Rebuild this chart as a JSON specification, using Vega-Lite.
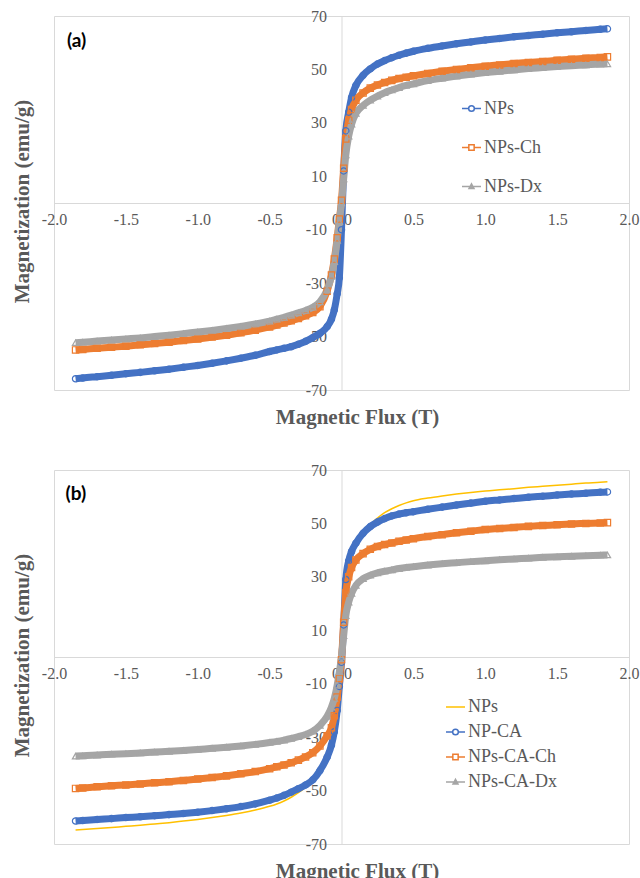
{
"$schema": "https://vega.github.io/schema/vega-lite/v6.json",
"background": "white",
"padding": {"left": 10, "top": 7, "right": 0, "bottom": 0},
"bounds": "flush",
"spacing": 80,
"config": {
  "view": {"stroke": "#D9D9D9", "strokeWidth": 1},
  "axis": {"grid": false, "ticks": false, "domainColor": "#D9D9D9", "domainWidth": 1, "labelFont": "Liberation Serif", "labelFontSize": 16, "labelColor": "#595959", "titleFont": "Liberation Serif", "titleFontSize": 21, "titleFontWeight": "bold", "titleColor": "#595959", "labelFlush": false, "labelOverlap": false},
  "legend": {"padding": 0, "labelFont": "Liberation Serif", "labelFontSize": 18, "labelColor": "#595959", "symbolSize": 361, "labelOffset": 2}
},
"resolve": {"scale": {"color": "independent", "shape": "independent"}, "legend": {"color": "independent", "shape": "independent"}},
"datasets": {
"a": [
{"s":"NPs","x":-1.85,"y":-65.8},{"s":"NPs","x":-1.8,"y":-65.5},{"s":"NPs","x":-1.7,"y":-65.0},{"s":"NPs","x":-1.6,"y":-64.5},{"s":"NPs","x":-1.5,"y":-63.9},{"s":"NPs","x":-1.4,"y":-63.4},{"s":"NPs","x":-1.3,"y":-62.8},{"s":"NPs","x":-1.2,"y":-62.2},{"s":"NPs","x":-1.1,"y":-61.5},{"s":"NPs","x":-1.0,"y":-60.8},{"s":"NPs","x":-0.9,"y":-60.0},{"s":"NPs","x":-0.8,"y":-59.1},{"s":"NPs","x":-0.7,"y":-58.1},{"s":"NPs","x":-0.6,"y":-57.0},{"s":"NPs","x":-0.5,"y":-55.6},{"s":"NPs","x":-0.45,"y":-55.0},{"s":"NPs","x":-0.4,"y":-54.4},{"s":"NPs","x":-0.35,"y":-53.8},{"s":"NPs","x":-0.3,"y":-52.9},{"s":"NPs","x":-0.25,"y":-51.8},{"s":"NPs","x":-0.2,"y":-50.4},{"s":"NPs","x":-0.15,"y":-48.8},{"s":"NPs","x":-0.1,"y":-46.3},{"s":"NPs","x":-0.07,"y":-43.5},{"s":"NPs","x":-0.05,"y":-40.0},{"s":"NPs","x":-0.03,"y":-34.0},{"s":"NPs","x":-0.015,"y":-28.0},{"s":"NPs","x":0,"y":-10},{"s":"NPs","x":0.015,"y":12},{"s":"NPs","x":0.03,"y":27},{"s":"NPs","x":0.05,"y":34},{"s":"NPs","x":0.07,"y":39.5},{"s":"NPs","x":0.1,"y":44},{"s":"NPs","x":0.15,"y":47.8},{"s":"NPs","x":0.2,"y":50.2},{"s":"NPs","x":0.25,"y":52},{"s":"NPs","x":0.3,"y":53.3},{"s":"NPs","x":0.35,"y":54.4},{"s":"NPs","x":0.4,"y":55.3},{"s":"NPs","x":0.45,"y":56.1},{"s":"NPs","x":0.5,"y":56.8},{"s":"NPs","x":0.6,"y":57.9},{"s":"NPs","x":0.7,"y":58.8},{"s":"NPs","x":0.8,"y":59.6},{"s":"NPs","x":0.9,"y":60.3},{"s":"NPs","x":1.0,"y":61.0},{"s":"NPs","x":1.1,"y":61.6},{"s":"NPs","x":1.2,"y":62.2},{"s":"NPs","x":1.3,"y":62.7},{"s":"NPs","x":1.4,"y":63.2},{"s":"NPs","x":1.5,"y":63.7},{"s":"NPs","x":1.6,"y":64.1},{"s":"NPs","x":1.7,"y":64.6},{"s":"NPs","x":1.8,"y":65.0},{"s":"NPs","x":1.85,"y":65.2},
{"s":"NPs-Ch","x":-1.85,"y":-55.0},{"s":"NPs-Ch","x":-1.8,"y":-54.8},{"s":"NPs-Ch","x":-1.7,"y":-54.4},{"s":"NPs-Ch","x":-1.6,"y":-54.0},{"s":"NPs-Ch","x":-1.5,"y":-53.6},{"s":"NPs-Ch","x":-1.4,"y":-53.1},{"s":"NPs-Ch","x":-1.3,"y":-52.6},{"s":"NPs-Ch","x":-1.2,"y":-52.1},{"s":"NPs-Ch","x":-1.1,"y":-51.5},{"s":"NPs-Ch","x":-1.0,"y":-50.9},{"s":"NPs-Ch","x":-0.9,"y":-50.2},{"s":"NPs-Ch","x":-0.8,"y":-49.5},{"s":"NPs-Ch","x":-0.7,"y":-48.6},{"s":"NPs-Ch","x":-0.6,"y":-47.6},{"s":"NPs-Ch","x":-0.5,"y":-46.4},{"s":"NPs-Ch","x":-0.45,"y":-45.7},{"s":"NPs-Ch","x":-0.4,"y":-44.9},{"s":"NPs-Ch","x":-0.35,"y":-44.1},{"s":"NPs-Ch","x":-0.3,"y":-43.2},{"s":"NPs-Ch","x":-0.25,"y":-42.2},{"s":"NPs-Ch","x":-0.2,"y":-41.0},{"s":"NPs-Ch","x":-0.15,"y":-38.8},{"s":"NPs-Ch","x":-0.1,"y":-33.0},{"s":"NPs-Ch","x":-0.07,"y":-27.0},{"s":"NPs-Ch","x":-0.05,"y":-21.0},{"s":"NPs-Ch","x":-0.03,"y":-13.0},{"s":"NPs-Ch","x":-0.015,"y":-6.0},{"s":"NPs-Ch","x":0,"y":1},{"s":"NPs-Ch","x":0.015,"y":13},{"s":"NPs-Ch","x":0.03,"y":24},{"s":"NPs-Ch","x":0.05,"y":31},{"s":"NPs-Ch","x":0.07,"y":35},{"s":"NPs-Ch","x":0.1,"y":38.5},{"s":"NPs-Ch","x":0.15,"y":41.2},{"s":"NPs-Ch","x":0.2,"y":43},{"s":"NPs-Ch","x":0.25,"y":44.2},{"s":"NPs-Ch","x":0.3,"y":45.1},{"s":"NPs-Ch","x":0.35,"y":45.9},{"s":"NPs-Ch","x":0.4,"y":46.6},{"s":"NPs-Ch","x":0.45,"y":47.1},{"s":"NPs-Ch","x":0.5,"y":47.6},{"s":"NPs-Ch","x":0.6,"y":48.5},{"s":"NPs-Ch","x":0.7,"y":49.3},{"s":"NPs-Ch","x":0.8,"y":50.0},{"s":"NPs-Ch","x":0.9,"y":50.6},{"s":"NPs-Ch","x":1.0,"y":51.2},{"s":"NPs-Ch","x":1.1,"y":51.7},{"s":"NPs-Ch","x":1.2,"y":52.2},{"s":"NPs-Ch","x":1.3,"y":52.6},{"s":"NPs-Ch","x":1.4,"y":53.0},{"s":"NPs-Ch","x":1.5,"y":53.4},{"s":"NPs-Ch","x":1.6,"y":53.8},{"s":"NPs-Ch","x":1.7,"y":54.2},{"s":"NPs-Ch","x":1.8,"y":54.5},{"s":"NPs-Ch","x":1.85,"y":54.7},
{"s":"NPs-Dx","x":-1.85,"y":-52.3},{"s":"NPs-Dx","x":-1.8,"y":-52.1},{"s":"NPs-Dx","x":-1.7,"y":-51.7},{"s":"NPs-Dx","x":-1.6,"y":-51.3},{"s":"NPs-Dx","x":-1.5,"y":-50.9},{"s":"NPs-Dx","x":-1.4,"y":-50.5},{"s":"NPs-Dx","x":-1.3,"y":-50.0},{"s":"NPs-Dx","x":-1.2,"y":-49.5},{"s":"NPs-Dx","x":-1.1,"y":-48.9},{"s":"NPs-Dx","x":-1.0,"y":-48.3},{"s":"NPs-Dx","x":-0.9,"y":-47.7},{"s":"NPs-Dx","x":-0.8,"y":-47.0},{"s":"NPs-Dx","x":-0.7,"y":-46.2},{"s":"NPs-Dx","x":-0.6,"y":-45.3},{"s":"NPs-Dx","x":-0.5,"y":-44.2},{"s":"NPs-Dx","x":-0.45,"y":-43.5},{"s":"NPs-Dx","x":-0.4,"y":-42.8},{"s":"NPs-Dx","x":-0.35,"y":-42.0},{"s":"NPs-Dx","x":-0.3,"y":-41.1},{"s":"NPs-Dx","x":-0.25,"y":-40.2},{"s":"NPs-Dx","x":-0.2,"y":-39.0},{"s":"NPs-Dx","x":-0.15,"y":-37.0},{"s":"NPs-Dx","x":-0.1,"y":-32.5},{"s":"NPs-Dx","x":-0.07,"y":-27.5},{"s":"NPs-Dx","x":-0.05,"y":-22.0},{"s":"NPs-Dx","x":-0.03,"y":-14.0},{"s":"NPs-Dx","x":-0.015,"y":-7.0},{"s":"NPs-Dx","x":0,"y":0},{"s":"NPs-Dx","x":0.015,"y":9},{"s":"NPs-Dx","x":0.03,"y":18},{"s":"NPs-Dx","x":0.05,"y":25},{"s":"NPs-Dx","x":0.07,"y":29.5},{"s":"NPs-Dx","x":0.1,"y":33.5},{"s":"NPs-Dx","x":0.15,"y":36.5},{"s":"NPs-Dx","x":0.2,"y":38.5},{"s":"NPs-Dx","x":0.25,"y":40},{"s":"NPs-Dx","x":0.3,"y":41.3},{"s":"NPs-Dx","x":0.35,"y":42.3},{"s":"NPs-Dx","x":0.4,"y":43.2},{"s":"NPs-Dx","x":0.45,"y":44},{"s":"NPs-Dx","x":0.5,"y":44.6},{"s":"NPs-Dx","x":0.6,"y":45.8},{"s":"NPs-Dx","x":0.7,"y":46.7},{"s":"NPs-Dx","x":0.8,"y":47.5},{"s":"NPs-Dx","x":0.9,"y":48.2},{"s":"NPs-Dx","x":1.0,"y":48.8},{"s":"NPs-Dx","x":1.1,"y":49.3},{"s":"NPs-Dx","x":1.2,"y":49.8},{"s":"NPs-Dx","x":1.3,"y":50.3},{"s":"NPs-Dx","x":1.4,"y":50.7},{"s":"NPs-Dx","x":1.5,"y":51.1},{"s":"NPs-Dx","x":1.6,"y":51.4},{"s":"NPs-Dx","x":1.7,"y":51.7},{"s":"NPs-Dx","x":1.8,"y":52.0},{"s":"NPs-Dx","x":1.85,"y":52.1}
],
"b": [
{"s":"NPs","x":-1.85,"y":-64.8},{"s":"NPs","x":-1.8,"y":-64.6},{"s":"NPs","x":-1.7,"y":-64.2},{"s":"NPs","x":-1.6,"y":-63.8},{"s":"NPs","x":-1.5,"y":-63.4},{"s":"NPs","x":-1.4,"y":-63.0},{"s":"NPs","x":-1.3,"y":-62.5},{"s":"NPs","x":-1.2,"y":-62.0},{"s":"NPs","x":-1.1,"y":-61.4},{"s":"NPs","x":-1.0,"y":-60.8},{"s":"NPs","x":-0.9,"y":-60.1},{"s":"NPs","x":-0.8,"y":-59.3},{"s":"NPs","x":-0.7,"y":-58.4},{"s":"NPs","x":-0.6,"y":-57.3},{"s":"NPs","x":-0.5,"y":-55.9},{"s":"NPs","x":-0.45,"y":-55.0},{"s":"NPs","x":-0.4,"y":-53.9},{"s":"NPs","x":-0.35,"y":-52.5},{"s":"NPs","x":-0.3,"y":-50.8},{"s":"NPs","x":-0.25,"y":-48.7},{"s":"NPs","x":-0.2,"y":-46.1},{"s":"NPs","x":-0.15,"y":-42.6},{"s":"NPs","x":-0.1,"y":-37.5},{"s":"NPs","x":-0.07,"y":-33.0},{"s":"NPs","x":-0.05,"y":-28.0},{"s":"NPs","x":-0.03,"y":-20.0},{"s":"NPs","x":-0.015,"y":-11.0},{"s":"NPs","x":0,"y":-2},{"s":"NPs","x":0.015,"y":12},{"s":"NPs","x":0.03,"y":29},{"s":"NPs","x":0.05,"y":36},{"s":"NPs","x":0.07,"y":39.6},{"s":"NPs","x":0.1,"y":42.8},{"s":"NPs","x":0.15,"y":46.6},{"s":"NPs","x":0.2,"y":49.6},{"s":"NPs","x":0.25,"y":52.0},{"s":"NPs","x":0.3,"y":54.0},{"s":"NPs","x":0.35,"y":55.5},{"s":"NPs","x":0.4,"y":56.7},{"s":"NPs","x":0.45,"y":57.7},{"s":"NPs","x":0.5,"y":58.5},{"s":"NPs","x":0.6,"y":59.5},{"s":"NPs","x":0.7,"y":60.3},{"s":"NPs","x":0.8,"y":61.0},{"s":"NPs","x":0.9,"y":61.6},{"s":"NPs","x":1.0,"y":62.1},{"s":"NPs","x":1.1,"y":62.6},{"s":"NPs","x":1.2,"y":63.0},{"s":"NPs","x":1.3,"y":63.5},{"s":"NPs","x":1.4,"y":63.9},{"s":"NPs","x":1.5,"y":64.3},{"s":"NPs","x":1.6,"y":64.7},{"s":"NPs","x":1.7,"y":65.1},{"s":"NPs","x":1.8,"y":65.4},{"s":"NPs","x":1.85,"y":65.6},
{"s":"NP-CA","x":-1.85,"y":-61.4},{"s":"NP-CA","x":-1.8,"y":-61.2},{"s":"NP-CA","x":-1.7,"y":-60.8},{"s":"NP-CA","x":-1.6,"y":-60.5},{"s":"NP-CA","x":-1.5,"y":-60.1},{"s":"NP-CA","x":-1.4,"y":-59.8},{"s":"NP-CA","x":-1.3,"y":-59.4},{"s":"NP-CA","x":-1.2,"y":-59.0},{"s":"NP-CA","x":-1.1,"y":-58.6},{"s":"NP-CA","x":-1.0,"y":-58.1},{"s":"NP-CA","x":-0.9,"y":-57.5},{"s":"NP-CA","x":-0.8,"y":-56.8},{"s":"NP-CA","x":-0.7,"y":-56.0},{"s":"NP-CA","x":-0.6,"y":-55.0},{"s":"NP-CA","x":-0.5,"y":-53.6},{"s":"NP-CA","x":-0.45,"y":-52.8},{"s":"NP-CA","x":-0.4,"y":-51.8},{"s":"NP-CA","x":-0.35,"y":-50.6},{"s":"NP-CA","x":-0.3,"y":-49.3},{"s":"NP-CA","x":-0.25,"y":-47.9},{"s":"NP-CA","x":-0.2,"y":-46.0},{"s":"NP-CA","x":-0.15,"y":-42.5},{"s":"NP-CA","x":-0.1,"y":-37.5},{"s":"NP-CA","x":-0.07,"y":-33.0},{"s":"NP-CA","x":-0.05,"y":-28.0},{"s":"NP-CA","x":-0.03,"y":-20.0},{"s":"NP-CA","x":-0.015,"y":-11.0},{"s":"NP-CA","x":0,"y":-2},{"s":"NP-CA","x":0.015,"y":12},{"s":"NP-CA","x":0.03,"y":29},{"s":"NP-CA","x":0.05,"y":36},{"s":"NP-CA","x":0.07,"y":39.5},{"s":"NP-CA","x":0.1,"y":42.6},{"s":"NP-CA","x":0.15,"y":46.3},{"s":"NP-CA","x":0.2,"y":48.8},{"s":"NP-CA","x":0.25,"y":50.5},{"s":"NP-CA","x":0.3,"y":51.8},{"s":"NP-CA","x":0.35,"y":52.8},{"s":"NP-CA","x":0.4,"y":53.5},{"s":"NP-CA","x":0.45,"y":54.0},{"s":"NP-CA","x":0.5,"y":54.4},{"s":"NP-CA","x":0.6,"y":55.3},{"s":"NP-CA","x":0.7,"y":56.1},{"s":"NP-CA","x":0.8,"y":56.9},{"s":"NP-CA","x":0.9,"y":57.6},{"s":"NP-CA","x":1.0,"y":58.3},{"s":"NP-CA","x":1.1,"y":58.8},{"s":"NP-CA","x":1.2,"y":59.3},{"s":"NP-CA","x":1.3,"y":59.8},{"s":"NP-CA","x":1.4,"y":60.2},{"s":"NP-CA","x":1.5,"y":60.6},{"s":"NP-CA","x":1.6,"y":61.0},{"s":"NP-CA","x":1.7,"y":61.3},{"s":"NP-CA","x":1.8,"y":61.7},{"s":"NP-CA","x":1.85,"y":61.8},
{"s":"NPs-CA-Ch","x":-1.85,"y":-49.2},{"s":"NPs-CA-Ch","x":-1.8,"y":-49.0},{"s":"NPs-CA-Ch","x":-1.7,"y":-48.6},{"s":"NPs-CA-Ch","x":-1.6,"y":-48.2},{"s":"NPs-CA-Ch","x":-1.5,"y":-47.9},{"s":"NPs-CA-Ch","x":-1.4,"y":-47.5},{"s":"NPs-CA-Ch","x":-1.3,"y":-47.1},{"s":"NPs-CA-Ch","x":-1.2,"y":-46.7},{"s":"NPs-CA-Ch","x":-1.1,"y":-46.2},{"s":"NPs-CA-Ch","x":-1.0,"y":-45.7},{"s":"NPs-CA-Ch","x":-0.9,"y":-45.1},{"s":"NPs-CA-Ch","x":-0.8,"y":-44.5},{"s":"NPs-CA-Ch","x":-0.7,"y":-43.7},{"s":"NPs-CA-Ch","x":-0.6,"y":-42.9},{"s":"NPs-CA-Ch","x":-0.5,"y":-41.8},{"s":"NPs-CA-Ch","x":-0.45,"y":-41.1},{"s":"NPs-CA-Ch","x":-0.4,"y":-40.4},{"s":"NPs-CA-Ch","x":-0.35,"y":-39.6},{"s":"NPs-CA-Ch","x":-0.3,"y":-38.6},{"s":"NPs-CA-Ch","x":-0.25,"y":-37.4},{"s":"NPs-CA-Ch","x":-0.2,"y":-35.8},{"s":"NPs-CA-Ch","x":-0.15,"y":-33.3},{"s":"NPs-CA-Ch","x":-0.1,"y":-29.5},{"s":"NPs-CA-Ch","x":-0.07,"y":-26.5},{"s":"NPs-CA-Ch","x":-0.05,"y":-22.0},{"s":"NPs-CA-Ch","x":-0.03,"y":-15.0},{"s":"NPs-CA-Ch","x":-0.015,"y":-8.0},{"s":"NPs-CA-Ch","x":0,"y":-1},{"s":"NPs-CA-Ch","x":0.015,"y":13},{"s":"NPs-CA-Ch","x":0.03,"y":24},{"s":"NPs-CA-Ch","x":0.05,"y":30},{"s":"NPs-CA-Ch","x":0.07,"y":33.5},{"s":"NPs-CA-Ch","x":0.1,"y":36.3},{"s":"NPs-CA-Ch","x":0.15,"y":38.7},{"s":"NPs-CA-Ch","x":0.2,"y":40.3},{"s":"NPs-CA-Ch","x":0.25,"y":41.4},{"s":"NPs-CA-Ch","x":0.3,"y":42.1},{"s":"NPs-CA-Ch","x":0.35,"y":42.7},{"s":"NPs-CA-Ch","x":0.4,"y":43.3},{"s":"NPs-CA-Ch","x":0.45,"y":43.8},{"s":"NPs-CA-Ch","x":0.5,"y":44.3},{"s":"NPs-CA-Ch","x":0.6,"y":45.1},{"s":"NPs-CA-Ch","x":0.7,"y":45.8},{"s":"NPs-CA-Ch","x":0.8,"y":46.5},{"s":"NPs-CA-Ch","x":0.9,"y":47.1},{"s":"NPs-CA-Ch","x":1.0,"y":47.7},{"s":"NPs-CA-Ch","x":1.1,"y":48.1},{"s":"NPs-CA-Ch","x":1.2,"y":48.5},{"s":"NPs-CA-Ch","x":1.3,"y":48.9},{"s":"NPs-CA-Ch","x":1.4,"y":49.2},{"s":"NPs-CA-Ch","x":1.5,"y":49.5},{"s":"NPs-CA-Ch","x":1.6,"y":49.8},{"s":"NPs-CA-Ch","x":1.7,"y":50.0},{"s":"NPs-CA-Ch","x":1.8,"y":50.2},{"s":"NPs-CA-Ch","x":1.85,"y":50.3},
{"s":"NPs-CA-Dx","x":-1.85,"y":-37.1},{"s":"NPs-CA-Dx","x":-1.8,"y":-37.0},{"s":"NPs-CA-Dx","x":-1.7,"y":-36.7},{"s":"NPs-CA-Dx","x":-1.6,"y":-36.4},{"s":"NPs-CA-Dx","x":-1.5,"y":-36.2},{"s":"NPs-CA-Dx","x":-1.4,"y":-35.9},{"s":"NPs-CA-Dx","x":-1.3,"y":-35.6},{"s":"NPs-CA-Dx","x":-1.2,"y":-35.3},{"s":"NPs-CA-Dx","x":-1.1,"y":-35.0},{"s":"NPs-CA-Dx","x":-1.0,"y":-34.6},{"s":"NPs-CA-Dx","x":-0.9,"y":-34.2},{"s":"NPs-CA-Dx","x":-0.8,"y":-33.8},{"s":"NPs-CA-Dx","x":-0.7,"y":-33.3},{"s":"NPs-CA-Dx","x":-0.6,"y":-32.7},{"s":"NPs-CA-Dx","x":-0.5,"y":-32.0},{"s":"NPs-CA-Dx","x":-0.45,"y":-31.6},{"s":"NPs-CA-Dx","x":-0.4,"y":-31.1},{"s":"NPs-CA-Dx","x":-0.35,"y":-30.5},{"s":"NPs-CA-Dx","x":-0.3,"y":-29.8},{"s":"NPs-CA-Dx","x":-0.25,"y":-29.0},{"s":"NPs-CA-Dx","x":-0.2,"y":-27.8},{"s":"NPs-CA-Dx","x":-0.15,"y":-25.6},{"s":"NPs-CA-Dx","x":-0.1,"y":-22.2},{"s":"NPs-CA-Dx","x":-0.07,"y":-18.8},{"s":"NPs-CA-Dx","x":-0.05,"y":-15.5},{"s":"NPs-CA-Dx","x":-0.03,"y":-10.5},{"s":"NPs-CA-Dx","x":-0.015,"y":-5.5},{"s":"NPs-CA-Dx","x":0,"y":0},{"s":"NPs-CA-Dx","x":0.015,"y":8},{"s":"NPs-CA-Dx","x":0.03,"y":15.5},{"s":"NPs-CA-Dx","x":0.05,"y":20.5},{"s":"NPs-CA-Dx","x":0.07,"y":23.8},{"s":"NPs-CA-Dx","x":0.1,"y":26.8},{"s":"NPs-CA-Dx","x":0.15,"y":29.3},{"s":"NPs-CA-Dx","x":0.2,"y":30.6},{"s":"NPs-CA-Dx","x":0.25,"y":31.5},{"s":"NPs-CA-Dx","x":0.3,"y":32.1},{"s":"NPs-CA-Dx","x":0.35,"y":32.6},{"s":"NPs-CA-Dx","x":0.4,"y":33.1},{"s":"NPs-CA-Dx","x":0.45,"y":33.5},{"s":"NPs-CA-Dx","x":0.5,"y":33.8},{"s":"NPs-CA-Dx","x":0.6,"y":34.4},{"s":"NPs-CA-Dx","x":0.7,"y":34.9},{"s":"NPs-CA-Dx","x":0.8,"y":35.3},{"s":"NPs-CA-Dx","x":0.9,"y":35.7},{"s":"NPs-CA-Dx","x":1.0,"y":36.0},{"s":"NPs-CA-Dx","x":1.1,"y":36.4},{"s":"NPs-CA-Dx","x":1.2,"y":36.7},{"s":"NPs-CA-Dx","x":1.3,"y":37.0},{"s":"NPs-CA-Dx","x":1.4,"y":37.3},{"s":"NPs-CA-Dx","x":1.5,"y":37.5},{"s":"NPs-CA-Dx","x":1.6,"y":37.7},{"s":"NPs-CA-Dx","x":1.7,"y":37.9},{"s":"NPs-CA-Dx","x":1.8,"y":38.1},{"s":"NPs-CA-Dx","x":1.85,"y":38.2}
]
},
"vconcat": [
{
  "width": 575, "height": 374,
  "layer": [
    {
      "data": {"name": "a"},
      "mark": {"type": "line", "interpolate": "monotone"},
      "encoding": {
        "x": {"field": "x", "type": "quantitative", "scale": {"domain": [-2, 2]},
              "axis": {"title": "Magnetic Flux (T)", "values": [-2,-1.5,-1,-0.5,0,0.5,1,1.5,2], "labelExpr": "(datum.value < 0 ? '-' : '') + format(abs(datum.value), '.1f')", "labelFont": "Liberation Serif", "labelFontSize": 16, "labelColor": "#595959", "offset": -187, "labelPadding": 8, "titleX": 303, "titleY": 214, "titleBaseline": "middle", "titleAlign": "center"}},
        "y": {"field": "y", "type": "quantitative", "scale": {"domain": [-70, 70]},
              "axis": {"title": "Magnetization (emu/g)", "values": [-70,-50,-30,-10,10,30,50,70], "labelExpr": "(datum.value < 0 ? '-' : '') + abs(datum.value)", "labelFont": "Liberation Serif", "labelFontSize": 16, "labelColor": "#595959", "offset": -287.5, "labelPadding": 15, "titleX": -319.5, "titleY": 185, "titleAngle": -90, "titleBaseline": "middle", "titleAlign": "center"}},
        "strokeWidth": {"condition": {"test": "datum.s==='none'", "value": 1.5}, "value": 7},
        "color": {"field": "s", "type": "nominal", "sort": null,
                  "scale": {"domain": ["NPs","NPs-Ch","NPs-Dx"], "range": ["#4472C4","#ED7D31","#A5A5A5"]},
                  "legend": {"title": null, "orient": "none", "legendX": 407, "legendY": 82, "rowPadding": 19,
                    "encode": {"symbols": {"update": {
                      "shape": {"signal": "datum.value==='NPs'?'M-1,0H-0.3M0.3,0H1M0.3,0A0.3,0.3,0,1,1,-0.3,0A0.3,0.3,0,1,1,0.3,0':datum.value==='NPs-Ch'?'M-1,0H-0.28M0.28,0H1M-0.28,-0.28H0.28V0.28H-0.28Z':'M-1,0H1M0,-0.28L0.26,0.2H-0.26Z'"},
                      "stroke": {"signal": "datum.value==='NPs'?'#4472C4':datum.value==='NPs-Ch'?'#ED7D31':'#A5A5A5'"},
                      "fill": {"signal": "datum.value==='NPs-Dx'?'#A5A5A5':'transparent'"},
                      "strokeWidth": {"value": 1.5},
                      "size": {"value": 361},
                      "opacity": {"value": 1}
                    }}}}}
      }
    },
    {
      "data": {"name": "a"},
      "mark": {"type": "point", "filled": false, "size": 40, "strokeWidth": 1.2, "opacity": 1},
      "encoding": {
        "x": {"field": "x", "type": "quantitative"},
        "y": {"field": "y", "type": "quantitative"},
        "color": {"field": "s", "type": "nominal", "sort": null, "legend": null},
        "shape": {"field": "s", "type": "nominal", "sort": null, "scale": {"domain": ["NPs-Dx","NPs-Ch","NPs"], "range": ["triangle-up","square","circle"]}, "legend": null}
      }
    },
    {
      "data": {"values": [{"label": "(a)"}]},
      "mark": {"type": "text", "align": "left", "baseline": "middle", "font": "Lato", "fontWeight": "bold", "fontSize": 19, "color": "black"},
      "encoding": {
        "x": {"datum": -1.91, "type": "quantitative"},
        "y": {"datum": 60.6, "type": "quantitative"},
        "text": {"field": "label"}
      }
    }
  ]
},
{
  "width": 575, "height": 374,
  "layer": [
    {
      "data": {"name": "b"},
      "mark": {"type": "line", "interpolate": "monotone"},
      "encoding": {
        "x": {"field": "x", "type": "quantitative", "scale": {"domain": [-2, 2]},
              "axis": {"title": "Magnetic Flux (T)", "values": [-2,-1.5,-1,-0.5,0,0.5,1,1.5,2], "labelExpr": "(datum.value < 0 ? '-' : '') + format(abs(datum.value), '.1f')", "labelFont": "Liberation Serif", "labelFontSize": 16, "labelColor": "#595959", "offset": -187, "labelPadding": 8, "titleX": 303, "titleY": 214, "titleBaseline": "middle", "titleAlign": "center"}},
        "y": {"field": "y", "type": "quantitative", "scale": {"domain": [-70, 70]},
              "axis": {"title": "Magnetization (emu/g)", "values": [-70,-50,-30,-10,10,30,50,70], "labelExpr": "(datum.value < 0 ? '-' : '') + abs(datum.value)", "labelFont": "Liberation Serif", "labelFontSize": 16, "labelColor": "#595959", "offset": -287.5, "labelPadding": 15, "titleX": -319.5, "titleY": 185, "titleAngle": -90, "titleBaseline": "middle", "titleAlign": "center"}},
        "strokeWidth": {"condition": {"test": "datum.s==='NPs'", "value": 1.5}, "value": 7},
        "color": {"field": "s", "type": "nominal", "sort": null,
                  "scale": {"domain": ["NPs","NP-CA","NPs-CA-Ch","NPs-CA-Dx"], "range": ["#FFC000","#4472C4","#ED7D31","#A5A5A5"]},
                  "legend": {"title": null, "orient": "none", "legendX": 391, "legendY": 226.5, "rowPadding": 5,
                    "encode": {"symbols": {"update": {
                      "shape": {"signal": "datum.value==='NPs'?'M-1,0H1':datum.value==='NP-CA'?'M-1,0H-0.3M0.3,0H1M0.3,0A0.3,0.3,0,1,1,-0.3,0A0.3,0.3,0,1,1,0.3,0':datum.value==='NPs-CA-Ch'?'M-1,0H-0.28M0.28,0H1M-0.28,-0.28H0.28V0.28H-0.28Z':'M-1,0H1M0,-0.28L0.26,0.2H-0.26Z'"},
                      "stroke": {"signal": "datum.value==='NPs'?'#FFC000':datum.value==='NP-CA'?'#4472C4':datum.value==='NPs-CA-Ch'?'#ED7D31':'#A5A5A5'"},
                      "fill": {"signal": "datum.value==='NPs-CA-Dx'?'#A5A5A5':'transparent'"},
                      "strokeWidth": {"value": 1.5},
                      "size": {"value": 361},
                      "opacity": {"value": 1}
                    }}}}}
      }
    },
    {
      "data": {"name": "b"},
      "transform": [{"filter": "datum.s !== 'NPs'"}],
      "mark": {"type": "point", "filled": false, "size": 40, "strokeWidth": 1.2, "opacity": 1},
      "encoding": {
        "x": {"field": "x", "type": "quantitative"},
        "y": {"field": "y", "type": "quantitative"},
        "color": {"field": "s", "type": "nominal", "sort": null, "legend": null},
        "shape": {"field": "s", "type": "nominal", "sort": null, "scale": {"domain": ["NP-CA","NPs-CA-Ch","NPs-CA-Dx"], "range": ["circle","square","triangle-up"]}, "legend": null}
      }
    },
    {
      "data": {"values": [{"label": "(b)"}]},
      "mark": {"type": "text", "align": "left", "baseline": "middle", "font": "Lato", "fontWeight": "bold", "fontSize": 19, "color": "black"},
      "encoding": {
        "x": {"datum": -1.92, "type": "quantitative"},
        "y": {"datum": 61.0, "type": "quantitative"},
        "text": {"field": "label"}
      }
    }
  ]
}
]
}
